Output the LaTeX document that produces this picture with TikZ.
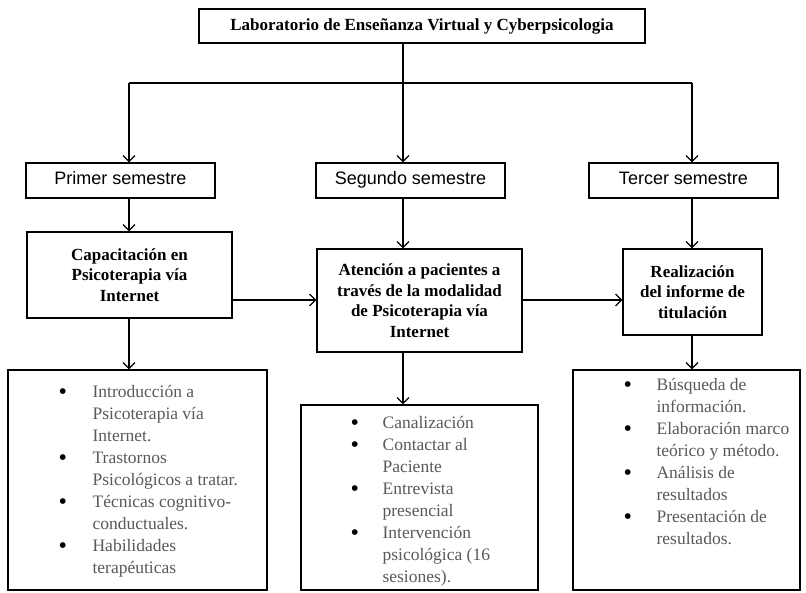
\documentclass[tikz,border=0pt]{standalone}
\usepackage{fontspec}
\setmainfont{Liberation Serif}
\setsansfont{Liberation Sans}
\usetikzlibrary{arrows.meta,positioning,calc}
\newcommand{\blt}{\raisebox{-2pt}{\textcolor{black}{\fontsize{24}{22}\selectfont\textbullet}}}

\begin{document}
\begin{tikzpicture}[x = 1pt, y = -1pt, > = {Straight Barb[length = 6pt, width = 12pt, line width = 1.2pt]}, line width = 1.2pt]
    \tikzset{
      box/.style = {draw, rectangle, inner sep = 0pt, align = center},
      titlebox/.style = {box, font = \fontsize{17}{20.5}\selectfont\bfseries},
      sembox/.style = {box, minimum width = 189pt, minimum height = 35pt, text height = 12pt, text depth = 3.5pt, font = \sffamily\fontsize{18}{20}\selectfont},
      listtext/.style = {anchor = north west, inner sep = 0pt, text = black!65, font = \fontsize{17.5}{22}\selectfont},
    }
    \useasboundingbox (0, 0) rectangle (806, 592);

    \node [titlebox, minimum width = 446pt, minimum height = 34pt] (lab) at (422, 26) {Laboratorio de Enseñanza Virtual y Cyberpsicologia};

    \node [sembox] (sem1) at (120.5, 180.5) {Primer semestre};
    \node [sembox] (sem2) at (410.5, 180.5) {Segundo semestre};
    \node [sembox] (sem3) at (683.5, 180.5) {Tercer semestre};

    \node [titlebox, minimum width = 205pt, minimum height = 86pt] (cap) at (129.5, 275) {Capacitación en\\Psicoterapia vía\\Internet};
    \node [titlebox, minimum width = 205pt, minimum height = 103pt] (ate) at (419.5, 300.5) {Atención a pacientes a\\través de la modalidad\\de Psicoterapia vía\\Internet};
    \node [titlebox, minimum width = 139pt, minimum height = 86pt] (rea) at (692.5, 292) {Realización\\del informe de\\titulación};

    \node [box, minimum width = 259pt, minimum height = 220pt] (list1) at (137.5, 480) {};
    \node [box, minimum width = 237pt, minimum height = 185pt] (list2) at (419.5, 497.5) {};
    \node [box, minimum width = 227pt, minimum height = 220pt] (list3) at (686.5, 480) {};

    \node [listtext] (items1) at (58, 381) {\begin{tabular}{@{}p{34pt}@{}l@{}}
      \blt & Introducción a\\
      & Psicoterapia vía\\
      & Internet.\\
      \blt & Trastornos\\
      & Psicológicos a tratar.\\
      \blt & Técnicas cognitivo-\\
      & conductuales.\\
      \blt & Habilidades\\
      & terapéuticas
    \end{tabular}};
    \node [listtext] (items2) at (350, 412) {\begin{tabular}{@{}p{32pt}@{}l@{}}
      \blt & Canalización\\
      \blt & Contactar al\\
      & Paciente\\
      \blt & Entrevista\\
      & presencial\\
      \blt & Intervención\\
      & psicológica (16\\
      & sesiones).
    \end{tabular}};
    \node [listtext] (items3) at (623, 374) {\begin{tabular}{@{}p{33pt}@{}l@{}}
      \blt & Búsqueda de\\
      & información.\\
      \blt & Elaboración marco\\
      & teórico y método.\\
      \blt & Análisis de\\
      & resultados\\
      \blt & Presentación de\\
      & resultados.
    \end{tabular}};

    % split under the title
    \coordinate (split) at (403, 83);
    \coordinate (left) at (129, 83);
    \coordinate (right) at (692, 83);
    \draw (left) -- (right);
    \draw (lab.south -| split) -- (split);
    \draw [->] (left) -- (left |- sem1.north);
    \draw [->] (split) -- (split |- sem2.north);
    \draw [->] (right) -- (right |- sem3.north);

    \draw [->] (sem1.south -| left) -- (cap.north -| left);
    \draw [->] (sem2.south -| split) -- (ate.north -| split);
    \draw [->] (sem3.south -| right) -- (rea.north -| right);

    \draw [->] (cap.south -| left) -- (list1.north -| left);
    \draw [->] (ate.south -| split) -- (list2.north -| split);
    \draw [->] (rea.south -| right) -- (list3.north -| right);

    \draw [->] (cap.east |- 0, 300) -- (ate.west |- 0, 300);
    \draw [->] (ate.east |- 0, 300) -- (rea.west |- 0, 300);
  \end{tikzpicture}
\end{document}
